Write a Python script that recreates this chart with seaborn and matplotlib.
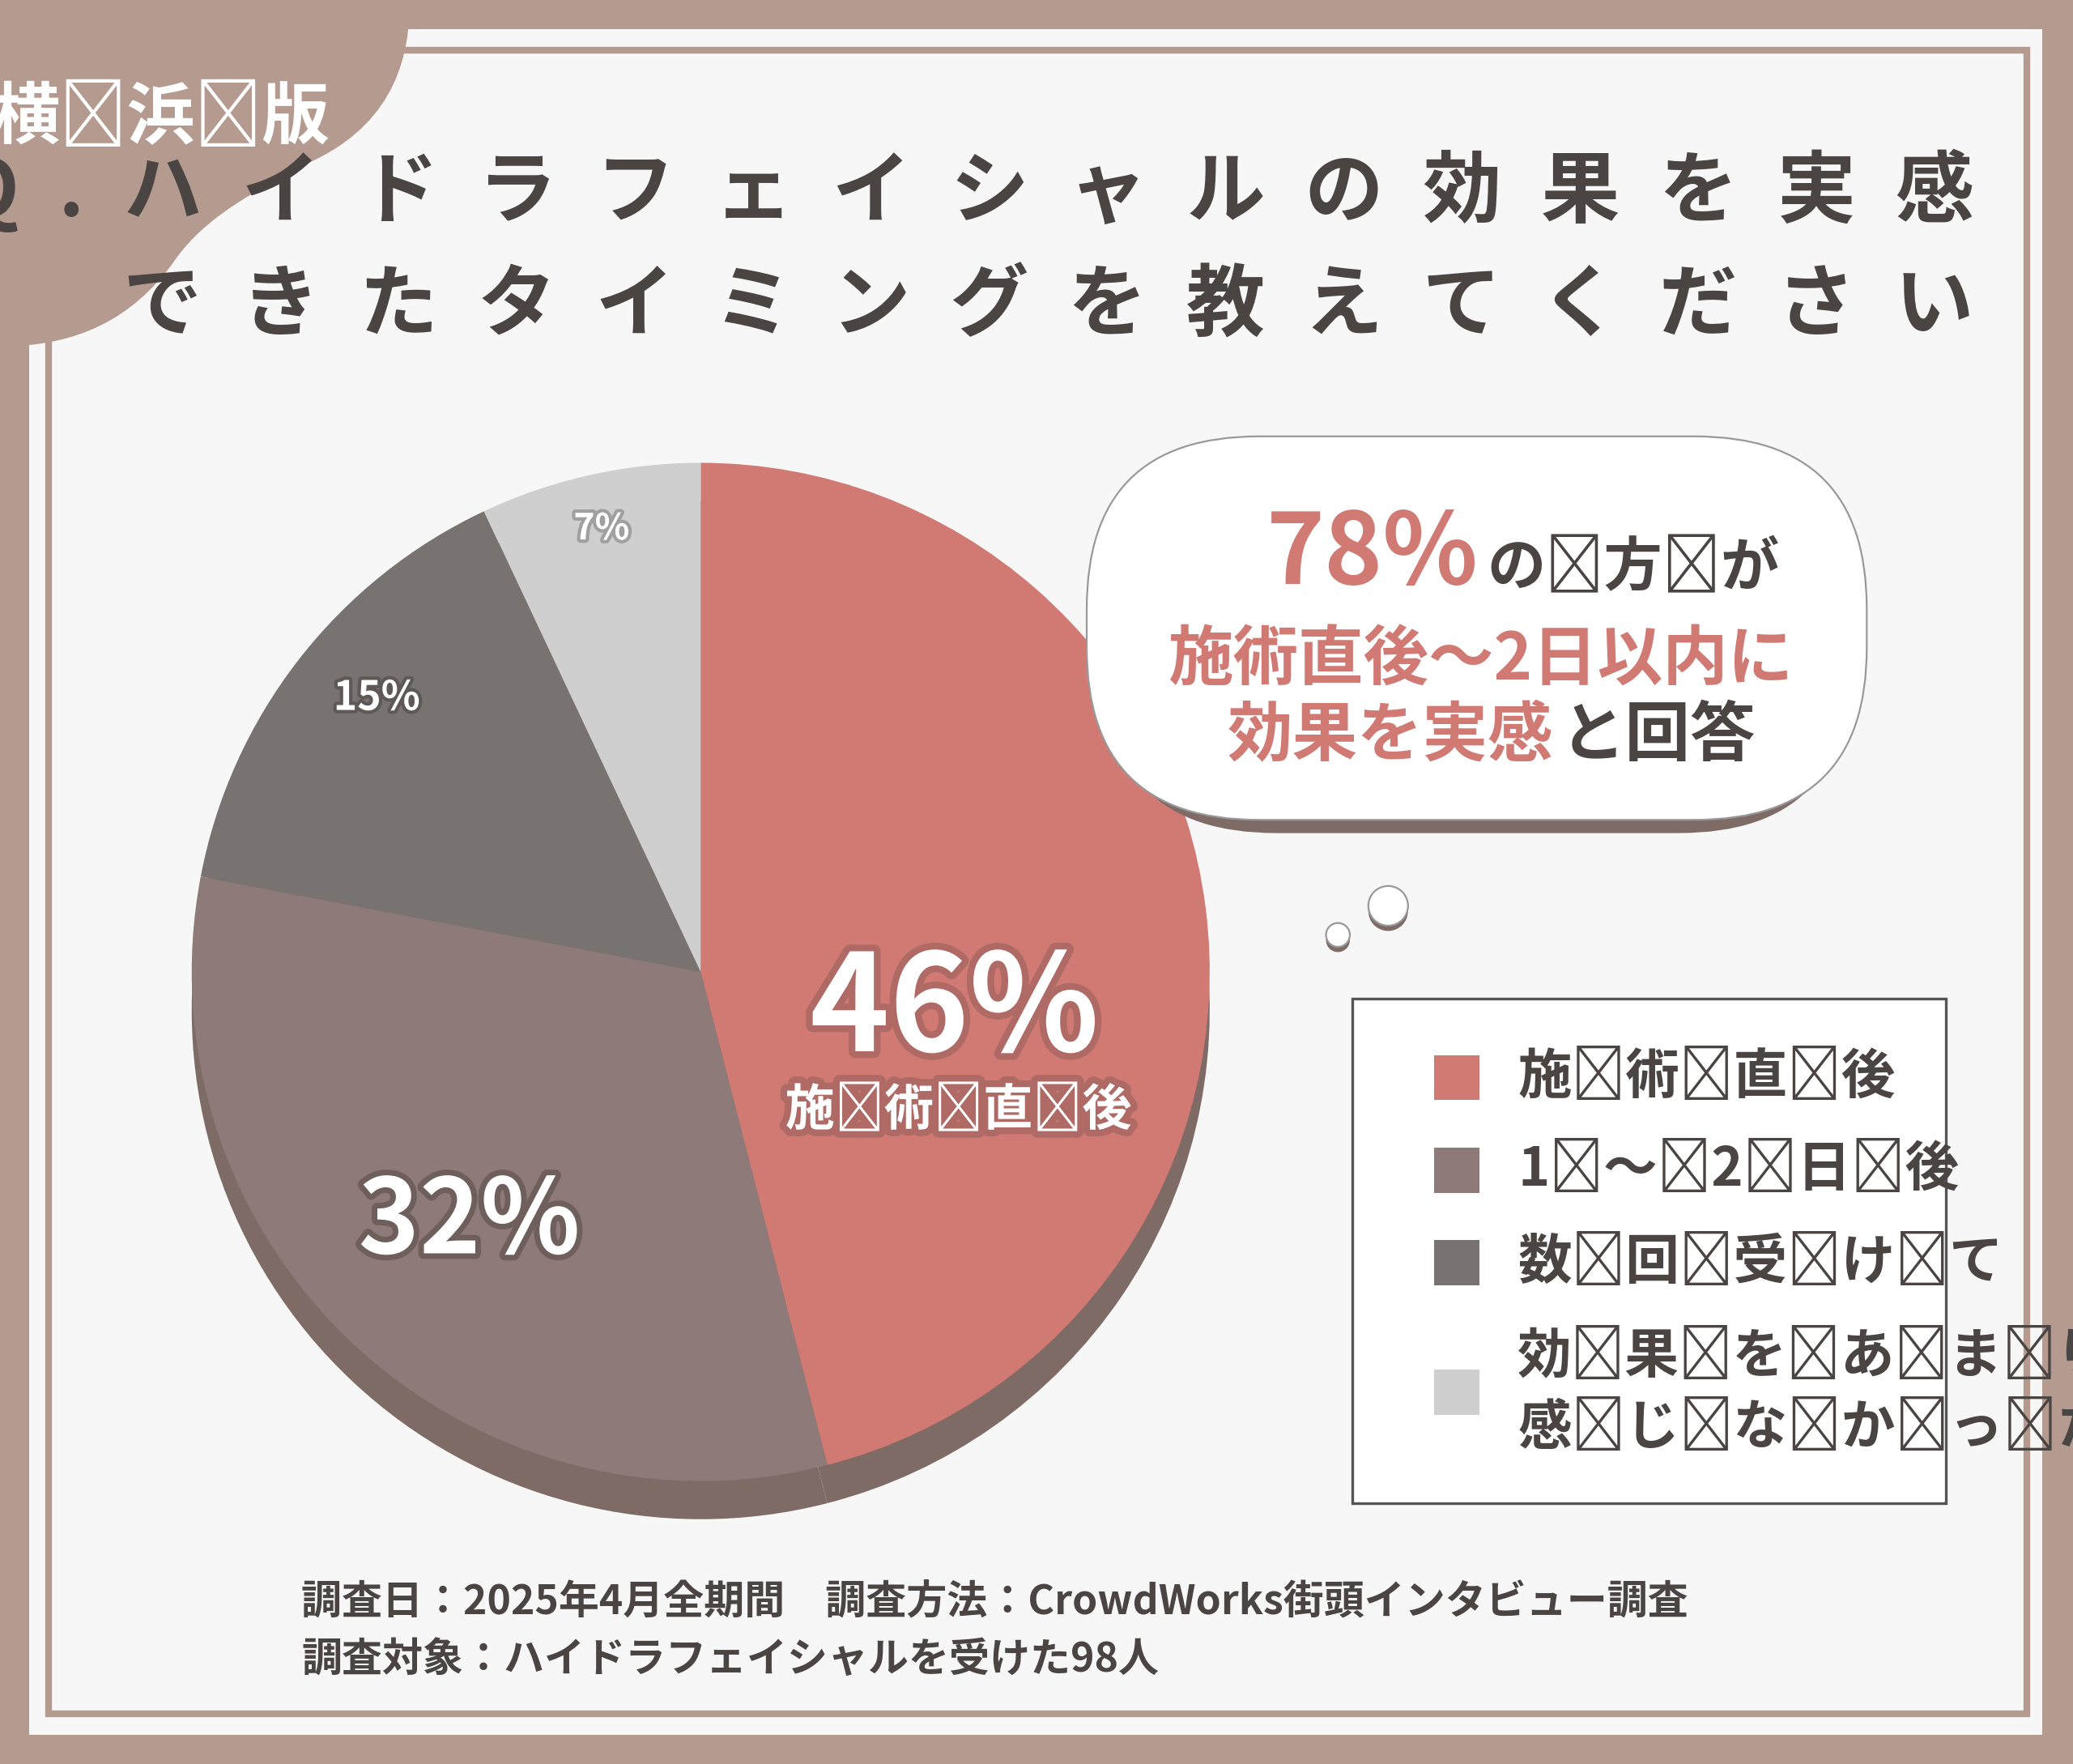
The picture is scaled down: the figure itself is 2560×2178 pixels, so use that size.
import matplotlib
matplotlib.use("Agg")
import matplotlib.pyplot as plt
import seaborn as sns
from matplotlib.patches import Rectangle, FancyBboxPatch, Circle, PathPatch
from matplotlib.path import Path
import matplotlib.patheffects as pe

# data
categories = ['施術直後', '1〜2日後', '数回受けて', '効果をあまり\n感じなかった']
shares = [46, 32, 15, 7]
colors = ['#D17A74', '#8E7A78', '#787270', '#CFCFCF']
shadow_color = '#7E6B66'
frame_color = '#B59A90'
dark = '#4A4442'
coral = '#D17A74'

sns.set_theme(style="white")
plt.rcParams['font.family'] = 'Noto Sans CJK JP'


def spaced(s, sep='\u2009'):
    # widen letter spacing like the reference
    return '\n'.join(sep.join(line) for line in s.split('\n'))


W, H = 1568, 1334
fig = plt.figure(figsize=(12.8, 10.89), dpi=200)
fig.patch.set_facecolor(frame_color)

bg = fig.add_axes([0, 0, 1, 1])
bg.set_xlim(0, W)
bg.set_ylim(H, 0)
bg.axis('off')

bg.add_patch(Rectangle((22, 22), 1523, 1290, facecolor='#F8F7F7', edgecolor='none'))
bg.add_patch(Rectangle((37, 38), 1496, 1258, facecolor='none', edgecolor=frame_color, lw=3))

# corner blob
verts = [(0, 0), (310, 0), (310, 40), (300, 90), (240, 120),
         (180, 150), (150, 170), (130, 200),
         (100, 240), (60, 262), (0, 262), (0, 0)]
codes = [Path.MOVETO, Path.LINETO, Path.CURVE4, Path.CURVE4, Path.CURVE4,
         Path.CURVE4, Path.CURVE4, Path.CURVE4,
         Path.CURVE4, Path.CURVE4, Path.CURVE4, Path.CLOSEPOLY]
bg.add_patch(PathPatch(Path(verts, codes), facecolor=frame_color, edgecolor='none'))
bg.text(122, 90, spaced('横浜版'), color='white', fontsize=30, fontweight='bold', ha='center', va='center')

# title
bg.text(1493, 145, spaced('Q.ハイドラフェイシャルの効果を実感', '\u2002'), color=dark, fontsize=35,
        fontweight='bold', ha='right', va='center')
bg.text(1493, 232, spaced('できたタイミングを教えてください', '\u2002'), color=dark, fontsize=35,
        fontweight='bold', ha='right', va='center')

# pie
cx, cy, r = 530, 735, 385
ax = fig.add_axes([(cx - r) / W, 1 - (cy + 1.1 * r) / H, 2 * r / W, 2.1 * r / H])
ax.pie(shares, colors=[shadow_color] * 4, startangle=90, counterclock=False,
       center=(0, -0.075), radius=1, wedgeprops=dict(linewidth=0))
ax.pie(shares, colors=colors, startangle=90, counterclock=False,
       center=(0, 0), radius=1, wedgeprops=dict(linewidth=0))
ax.set_xlim(-1, 1)
ax.set_ylim(-1.1, 1)
ax.set_aspect('equal')
ax.axis('off')

# overlay for everything drawn on top of the pie
ov = fig.add_axes([0, 0, 1, 1])
ov.set_xlim(0, W)
ov.set_ylim(H, 0)
ov.axis('off')
ov.patch.set_alpha(0)

glow = [pe.withStroke(linewidth=6, foreground='#B06A65')]
ov.text(722, 765, f'{shares[0]}%', color='white', fontsize=60, fontweight='bold',
        ha='center', va='center', path_effects=glow)
ov.text(725, 840, spaced(categories[0]), color='white', fontsize=22, fontweight='bold',
        ha='center', va='center', path_effects=glow)
ov.text(355, 925, f'{shares[1]}%', color='white', fontsize=46, fontweight='bold',
        ha='center', va='center', path_effects=[pe.withStroke(linewidth=5, foreground='#6E5E5C')])
ov.text(285, 528, f'{shares[2]}%', color='white', fontsize=18, fontweight='bold',
        ha='center', va='center', path_effects=[pe.withStroke(linewidth=3, foreground='#5E5856')])
ov.text(455, 400, f'{shares[3]}%', color='white', fontsize=16, fontweight='bold',
        ha='center', va='center', path_effects=[pe.withStroke(linewidth=3, foreground='#A0A0A0')])

# thought bubble
ov.add_patch(FancyBboxPatch((835, 345), 565, 285, boxstyle='round,pad=0,rounding_size=130',
                            facecolor=shadow_color, edgecolor='none'))
ov.add_patch(FancyBboxPatch((822, 330), 590, 290, boxstyle='round,pad=0,rounding_size=130',
                            facecolor='white', edgecolor='#999999', lw=0.8))
for (x, y, rr) in [(1050, 685, 15), (1012, 707, 9)]:
    ov.add_patch(Circle((x, y + 4), rr, facecolor=shadow_color, edgecolor='none'))
    ov.add_patch(Circle((x, y), rr, facecolor='white', edgecolor='#999999', lw=0.8))
ov.text(1118, 420, '78%', color=coral, fontsize=44, fontweight='bold', ha='right', va='center')
ov.text(1125, 430, spaced('の方が'), color=dark, fontsize=26, fontweight='bold', ha='left', va='center')
ov.text(1120, 500, '施術直後〜2日以内に', color=coral, fontsize=29, fontweight='bold',
        ha='center', va='center')
ov.text(1175, 557, '効果を実感', color=coral, fontsize=29, fontweight='bold', ha='right', va='center')
ov.text(1180, 557, 'と回答', color=dark, fontsize=29, fontweight='bold', ha='left', va='center')

# legend
ov.add_patch(Rectangle((1023, 755), 449, 382, facecolor='white', edgecolor='#555555', lw=1.2))
ys = [815, 885, 955, 1053]
for lab, col, y in zip(categories, colors, ys):
    ov.add_patch(Rectangle((1085, y - 17), 34, 34, facecolor=col, edgecolor='none'))
    ov.text(1148, y, spaced(lab, '\u2005'), color=dark, fontsize=24, fontweight='bold',
            ha='left', va='center', linespacing=1.4)

# footer
ov.text(228, 1212, '調査日：2025年4月全期間　調査方法：CrowdWorks街頭インタビュー調査',
        color=dark, fontsize=18, fontweight='bold', ha='left', va='center')
ov.text(228, 1255, '調査対象：ハイドラフェイシャルを受けた98人',
        color=dark, fontsize=18, fontweight='bold', ha='left', va='center')

fig.savefig('out.png', dpi=200, facecolor=fig.get_facecolor())
